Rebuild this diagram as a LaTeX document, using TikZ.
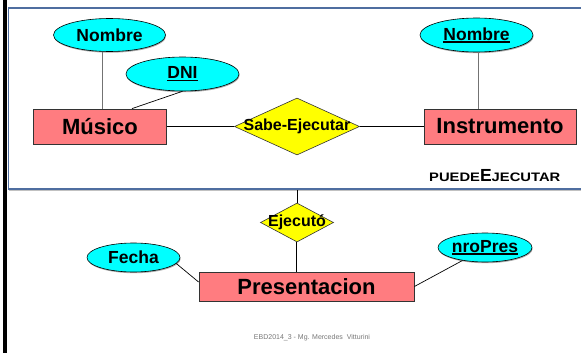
\documentclass[tikz,border=0pt]{standalone}
\usepackage{fontspec}
\usepackage{graphicx}
\setmainfont{Liberation Sans}
\usetikzlibrary{shapes.geometric,shadows}
\definecolor{attrcyan}{RGB}{0,255,255}
\definecolor{entsalmon}{RGB}{255,124,128}
\definecolor{relyellow}{RGB}{255,255,0}
\definecolor{boxblue}{RGB}{79,110,160}
\definecolor{footgray}{RGB}{120,120,120}
\newcommand{\ulx}[1]{\setbox0=\hbox{#1}\rlap{\copy0}\rule[-2.4pt]{\wd0}{1.3pt}}
\tikzset{
  attr/.style={ellipse, draw=black, line width=0.6pt, fill=attrcyan, inner sep=0pt,
    font=\fontsize{17.5}{20}\selectfont\bfseries,
    drop shadow={shadow xshift=0.6pt, shadow yshift=-1.2pt, fill=black!55, opacity=0.6}},
  entity/.style={rectangle, draw=black!80, line width=0.8pt, fill=entsalmon, inner sep=0pt,
    font=\fontsize{22}{26}\selectfont\bfseries,
    drop shadow={shadow xshift=0.8pt, shadow yshift=-0.8pt, fill=black!50, opacity=0.5}},
  rel/.style={diamond, draw=black!80, line width=0.6pt, fill=relyellow, inner sep=0pt,
    font=\fontsize{16}{19}\selectfont\bfseries},
  conn/.style={draw=black, line width=0.9pt},
  gconn/.style={draw=black!55, line width=1pt}
}
\begin{document}
\begin{tikzpicture}[x=1pt,y=-1pt]
\useasboundingbox (0,0) rectangle (581,353);
\fill[white] (0,0) rectangle (581,353);
% aggregation box
\node[rectangle, draw=boxblue, line width=1.6pt, fill=white, minimum width=575pt, minimum height=181pt, inner sep=0pt,
  drop shadow={shadow xshift=0pt, shadow yshift=-2.2pt, fill=black!40, opacity=0.6}] (agg) at (296,98.5) {};
% left black bar
\fill[black] (3,0) rectangle (7,353);
% nodes
\node[attr, minimum width=112pt, minimum height=33pt] (nomM) at (109.5,35) {Nombre};
\node[attr, minimum width=113pt, minimum height=34pt] (dni) at (182.5,74) {\ulx{DNI}};
\node[entity, minimum width=133pt, minimum height=35pt] (musico) at (100,126.5) {Músico};
\node[rel, minimum width=125pt, minimum height=57pt] (sabe) at (297,126.5) {\makebox[0pt]{Sabe-Ejecutar}};
\node[entity, minimum width=152pt, minimum height=35pt] (instr) at (500,126.5) {Instrumento};
\node[attr, minimum width=113pt, minimum height=34pt] (nomI) at (476.5,35) {\ulx{Nombre}};
\node[anchor=base west, inner sep=0pt, font=\bfseries] (pe) at (429,181)
  {\scalebox{1.2}[1]{\fontsize{12.3}{14}\selectfont PUEDE}{\fontsize{17.5}{20}\selectfont E}\scalebox{1.2}[1]{\fontsize{12.3}{14}\selectfont JECUTAR}};
\node[rel, minimum width=73pt, minimum height=39pt] (ejec) at (297,222.5) {\makebox[0pt]{Ejecutó}};
\node[entity, minimum width=215pt, minimum height=29pt] (pres) at (306.5,286.5) {Presentacion};
\node[attr, minimum width=93pt, minimum height=29pt] (fecha) at (133.5,257.5) {Fecha};
\node[attr, minimum width=94pt, minimum height=29pt] (nro) at (485,247.5) {\ulx{nroPres}};
\node[text=footgray, font=\fontsize{7}{8}\selectfont, inner sep=0pt] (foot) at (312,338) {EBD2014\_3 - Mg. Mercedes\ \ Vitturini};
% connectors
\draw[gconn] ([xshift=-7.5pt]nomM.south) -- ([xshift=2pt]musico.north);
\draw[conn, line width=0.7pt] (dni.south) -- ([xshift=32pt]musico.north);
\draw[conn] (musico.east) -- (sabe.west);
\draw[conn] (sabe.east) -- (instr.west);
\draw[gconn] ([xshift=1.5pt]nomI.south) -- ([xshift=-22pt]instr.north);
\draw[conn] (agg.south -| ejec.north) -- (ejec.north);
\draw[conn] ([xshift=-1pt]ejec.south) -- ([xshift=-1pt]ejec.south |- pres.north);
\draw[conn, line width=0.7pt] (fecha.-8) -- ([yshift=4.5pt]pres.west);
\draw[conn, line width=0.7pt] (nro.210) -- (pres.east);
\end{tikzpicture}
\end{document}
